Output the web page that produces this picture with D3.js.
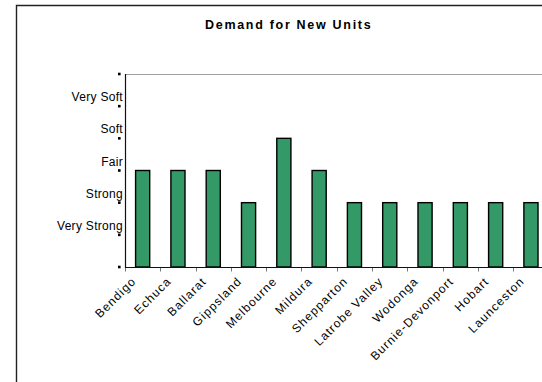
<!DOCTYPE html>
<html>
<head>
<meta charset="utf-8">
<script src="https://cdn.jsdelivr.net/npm/d3@7"></script>
<style>
  body { margin: 0; background: #fff; }
  svg { display: block; font-family: "Liberation Sans", Arial, sans-serif; }
</style>
</head>
<body>
<div id="chart"></div>
<script>
var categories = ['Bendigo', 'Echuca', 'Ballarat', 'Gippsland', 'Melbourne', 'Mildura',
    'Shepparton', 'Latrobe Valley', 'Wodonga', 'Burnie-Devonport', 'Hobart', 'Launceston'];
var demand = [3, 3, 3, 2, 4, 3, 2, 2, 2, 2, 2, 2];
var levelLabels = ['Very Strong', 'Strong', 'Fair', 'Soft', 'Very Soft'];
var levelTicks = [0, 1, 2, 3, 4, 5, 6];
var title = 'Demand for New Units';

var width = 542, height = 382;
var plot = { left: 125, top: 74, bottom: 267 };

var svg = d3.select('#chart').append('svg')
    .attr('width', width)
    .attr('height', height);

// chart area frame (runs off the right / bottom edges)
svg.append('path')
    .attr('d', 'M16.5,' + height + 'V5.5H' + width)
    .attr('fill', 'none')
    .attr('stroke', '#222')
    .attr('stroke-width', 1.4);

svg.append('text')
    .attr('x', 205)
    .attr('y', 29)
    .attr('font-size', 12.5)
    .attr('font-weight', 'bold')
    .attr('letter-spacing', 1.7)
    .text(title);

var x = d3.scaleBand()
    .domain(categories)
    .range([plot.left, plot.left + categories.length * 35.3])
    .padding(0);

var y = d3.scaleLinear()
    .domain([0, 6])
    .range([plot.bottom, plot.top]);

// plot area top border
svg.append('line')
    .attr('x1', plot.left).attr('x2', width)
    .attr('y1', plot.top + 0.5).attr('y2', plot.top + 0.5)
    .attr('stroke', '#a0a0a0')
    .attr('stroke-width', 1.2);

// bars
var barWidth = x.bandwidth() / 2.5;
svg.selectAll('.bar')
    .data(categories)
    .enter()
    .append('rect')
    .attr('class', 'bar')
    .attr('x', function(d) { return x(d) + (x.bandwidth() - barWidth) / 2; })
    .attr('y', function(d, i) { return y(demand[i]); })
    .attr('width', barWidth)
    .attr('height', function(d, i) { return y(0) - y(demand[i]); })
    .attr('fill', '#339966')
    .attr('stroke', '#000')
    .attr('stroke-width', 1.4);

// x axis: ticks sit between categories
var boundaries = categories.map(function(d) { return x(d); });
svg.selectAll('.xtick')
    .data(boundaries)
    .enter()
    .append('line')
    .attr('class', 'xtick')
    .attr('x1', function(d) { return Math.round(d) + 0.5; })
    .attr('x2', function(d) { return Math.round(d) + 0.5; })
    .attr('y1', plot.bottom)
    .attr('y2', plot.bottom + 4.5)
    .attr('stroke', '#777')
    .attr('stroke-width', 1);

svg.append('line')
    .attr('x1', plot.left).attr('x2', width)
    .attr('y1', plot.bottom + 0.5).attr('y2', plot.bottom + 0.5)
    .attr('stroke', '#111')
    .attr('stroke-width', 1.2);

// category labels, rotated
svg.selectAll('.xlabel')
    .data(categories)
    .enter()
    .append('text')
    .attr('class', 'xlabel')
    .attr('transform', function(d) {
        return 'translate(' + (x(d) + x.bandwidth() / 2 - 6) + ',' + (plot.bottom + 15) + ') rotate(-45)';
    })
    .attr('text-anchor', 'end')
    .attr('font-size', 12)
    .attr('letter-spacing', 1.1)
    .attr('fill', '#000')
    .text(function(d) { return d; });

// y axis
svg.append('line')
    .attr('x1', plot.left + 0.5).attr('x2', plot.left + 0.5)
    .attr('y1', plot.top).attr('y2', plot.bottom + 1)
    .attr('stroke', '#111')
    .attr('stroke-width', 1.2);

svg.selectAll('.ytick')
    .data(levelTicks)
    .enter()
    .append('rect')
    .attr('class', 'ytick')
    .attr('x', 118)
    .attr('y', function(d) { return y(d) - 1.3; })
    .attr('width', 2.6)
    .attr('height', 2.6)
    .attr('fill', '#000');

svg.selectAll('.ylabel')
    .data(levelLabels)
    .enter()
    .append('text')
    .attr('class', 'ylabel')
    .attr('x', 123)
    .attr('y', function(d, i) { return y(i + 1) - 5; })
    .attr('text-anchor', 'end')
    .attr('font-size', 12)
    .attr('letter-spacing', 0.3)
    .attr('fill', '#000')
    .text(function(d) { return d; });
</script>
</body>
</html>
